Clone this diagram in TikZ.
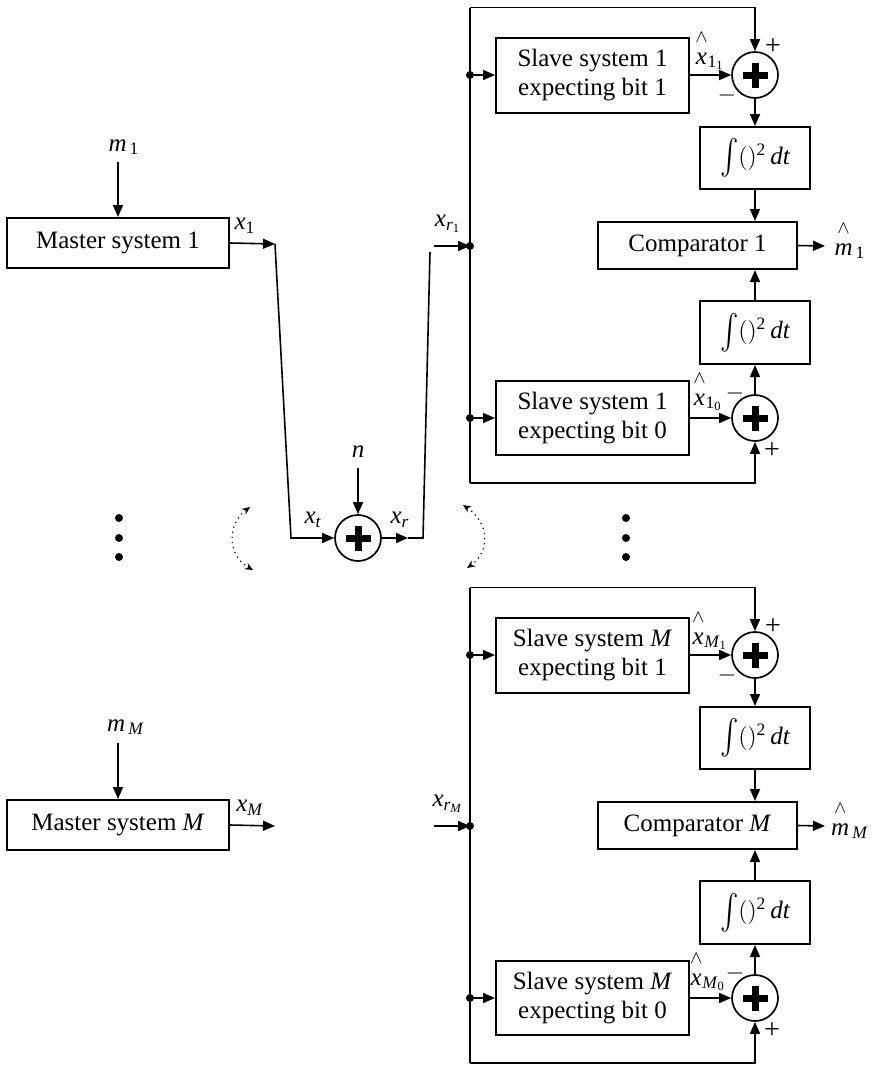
\documentclass[tikz,border=0pt]{standalone}
\usepackage{fontspec}
\setmainfont{Liberation Serif}
\usepackage{amsmath}
\usepackage{graphicx}
\usetikzlibrary{arrows.meta}
\newcommand\mi[1]{\textit{#1}}
\newcommand\hatted[1]{\overset{\wedge}{#1\vphantom{l}}}
\newcommand\sqint{$\vcenter{\hbox{\scalebox{1.15}[1.45]{$\int$}}}()^{\text{2}}\,\mi{dt}$}

\begin{document}
\begin{tikzpicture}[x=0.5pt,y=-0.5pt,
  font=\fontsize{12.5}{14.5}\selectfont,
  every node/.style={inner sep=0pt},
  box/.style={draw, line width=1pt, align=center},
  sumnode/.style={draw, circle, line width=0.85pt, minimum size=23pt,
    path picture={
      \fill ([xshift=-6.25pt,yshift=-1.75pt]path picture bounding box.center)
        rectangle ([xshift=6.25pt,yshift=1.75pt]path picture bounding box.center);
      \fill ([xshift=-1.75pt,yshift=-6.25pt]path picture bounding box.center)
        rectangle ([xshift=1.75pt,yshift=6.25pt]path picture bounding box.center);
    }},
  wire/.style={line width=0.8pt},
  arr/.style={wire, -{Triangle[length=6pt,width=5pt]}},
  swing/.style={dotted, line width=0.6pt,
    {Stealth[length=4pt,width=3.5pt]}-{Stealth[length=4pt,width=3.5pt]}}]

\useasboundingbox (0,0) rectangle (873,1066);

% ---------- transmitters ----------
\node[box, minimum width=111pt, minimum height=25pt] (ms1) at (118,243) {Master system 1};
\coordinate (m1top) at (118,162);
\node (lm1) at (124,147) {$\mi{m}_{\,\text{1}}$};
\draw[arr] (m1top) -- (ms1.north);
\coordinate (p1) at (275,244);
\draw[arr] (ms1.east) -- (p1);
\node (lx1) at (245,226) {$\mi{x}_{\text{1}}$};

\node[box, minimum width=111pt, minimum height=25pt] (msM) at (118,825) {Master system \mi{M}};
\coordinate (mMtop) at (118,743);
\node (lmM) at (126,727) {$\mi{m}_{\,\text{\mi{M}}}$};
\draw[arr] (mMtop) -- (msM.north);
\coordinate (pM) at (275,826);
\draw[arr] (msM.east) -- (pM);
\node (lxM) at (250,808) {$\mi{x}_{\text{\mi{M}}}$};

% ---------- channel ----------
\node[sumnode] (sn) at (358,538) {};
\coordinate (ntop) at (358,468);
\node (ln) at (358,452) {\mi{n}};
\draw[arr] (ntop) -- (sn.north);
\coordinate (p2) at (291,538);
\draw[arr] (p1) -- (p2) -- (sn.west);
\node (lxt) at (313,520) {$\mi{x}_{\mi{t}}$};
\coordinate (q1) at (408,538);
\coordinate (q2) at (423,538);
\coordinate (q3) at (430,252);
\draw[arr] (sn.east) -- (q1);
\draw[wire] (q1) -- (q2) -- (q3);
\node (lxr) at (400,520) {$\mi{x}_{\mi{r}}$};

% swing arrows around the channel
\coordinate (cl1) at (250,507);
\coordinate (cl2) at (253,570);
\draw[swing] (cl1) .. controls (226,525) and (228,556) .. (cl2);
\coordinate (cr1) at (463,505);
\coordinate (cr2) at (467,568);
\draw[swing] (cr1) .. controls (490,523) and (490,552) .. (cr2);

% ellipsis dots
\foreach \vx in {119,626}
  \foreach \vy in {518,538,557}
    \fill (\vx,\vy) circle (2pt);

% ---------- receivers ----------
\foreach \sfx/\dy/\idx in {a/0/1, b/580/\mi{M}} {
  \node[box, minimum width=96.5pt, minimum height=37.5pt] (slA\sfx) at (592.5,{75+\dy})
    {Slave system \idx\\expecting bit 1};
  \node[sumnode] (suA\sfx) at (755,{75+\dy}) {};
  \node[box, minimum width=55pt, minimum height=31pt] (inA\sfx) at (755,{158+\dy}) {\sqint};
  \node[box, minimum width=99.5pt, minimum height=23.5pt] (cmp\sfx) at (697.5,{245.5+\dy})
    {Comparator \idx};
  \node[box, minimum width=55pt, minimum height=31.5pt] (inB\sfx) at (755,{332.5+\dy}) {\sqint};
  \node[sumnode] (suB\sfx) at (755,{418+\dy}) {};
  \node[box, minimum width=96.5pt, minimum height=37pt] (slB\sfx) at (592.5,{418+\dy})
    {Slave system \idx\\expecting bit 0};

  \coordinate (top\sfx) at (470,{7.5+\dy});
  \coordinate (bot\sfx) at (470,{483+\dy});
  \coordinate (jA\sfx) at (470,{75+\dy});
  \coordinate (jin\sfx) at (470,{246+\dy});
  \coordinate (jB\sfx) at (470,{418+\dy});
  \coordinate (xin\sfx) at (434,{246+\dy});
  \coordinate (out\sfx) at (825,{246+\dy});

  % received-signal bus and loops to the summers
  \draw[wire] (top\sfx) -- (bot\sfx);
  \draw[arr] (top\sfx) -| (suA\sfx.north);
  \draw[arr] (bot\sfx) -| (suB\sfx.south);
  \draw[arr] (xin\sfx) -- (jin\sfx);
  \draw[arr] (jA\sfx) -- (slA\sfx.west);
  \draw[arr] (jB\sfx) -- (slB\sfx.west);
  \foreach \j in {jA,jin,jB} \fill (\j\sfx) circle (2pt);

  % slave outputs through the error path
  \draw[arr] (slA\sfx.east) -- (suA\sfx.west);
  \draw[arr] (slB\sfx.east) -- (suB\sfx.west);
  \draw[arr] (suA\sfx.south) -- (inA\sfx.north);
  \draw[arr] (suB\sfx.north) -- (inB\sfx.south);
  \draw[arr] (inA\sfx.south) -- (inA\sfx.south |- cmp\sfx.north);
  \draw[arr] (inB\sfx.north) -- (inB\sfx.north |- cmp\sfx.south);
  \draw[arr] (cmp\sfx.east) -- (out\sfx);

  % labels
  \node (lxr\sfx) at (448,{224+\dy}) {$\mi{x}_{\mi{r}_{\text{\idx}}}$};
  \node (lhA\sfx) at (710,{50+\dy}) {$\hatted{\mi{x}}_{\text{\idx}_{\text{1}}}$};
  \node (lhB\sfx) at (708,{391+\dy}) {$\hatted{\mi{x}}_{\text{\idx}_{\text{0}}}$};
  \node (pA\sfx) at (773,{47+\dy}) {\fontsize{14}{14}\selectfont +};
  \node (nA\sfx) at (727,{95+\dy}) {$-$};
  \node (nB\sfx) at (735,{393+\dy}) {$-$};
  \node (pB\sfx) at (772,{451+\dy}) {\fontsize{14}{14}\selectfont +};
  \node (lm\sfx) at (850,{240+\dy}) {$\hatted{\mi{m}}_{\,\text{\idx}}$};
}
\end{tikzpicture}
\end{document}
